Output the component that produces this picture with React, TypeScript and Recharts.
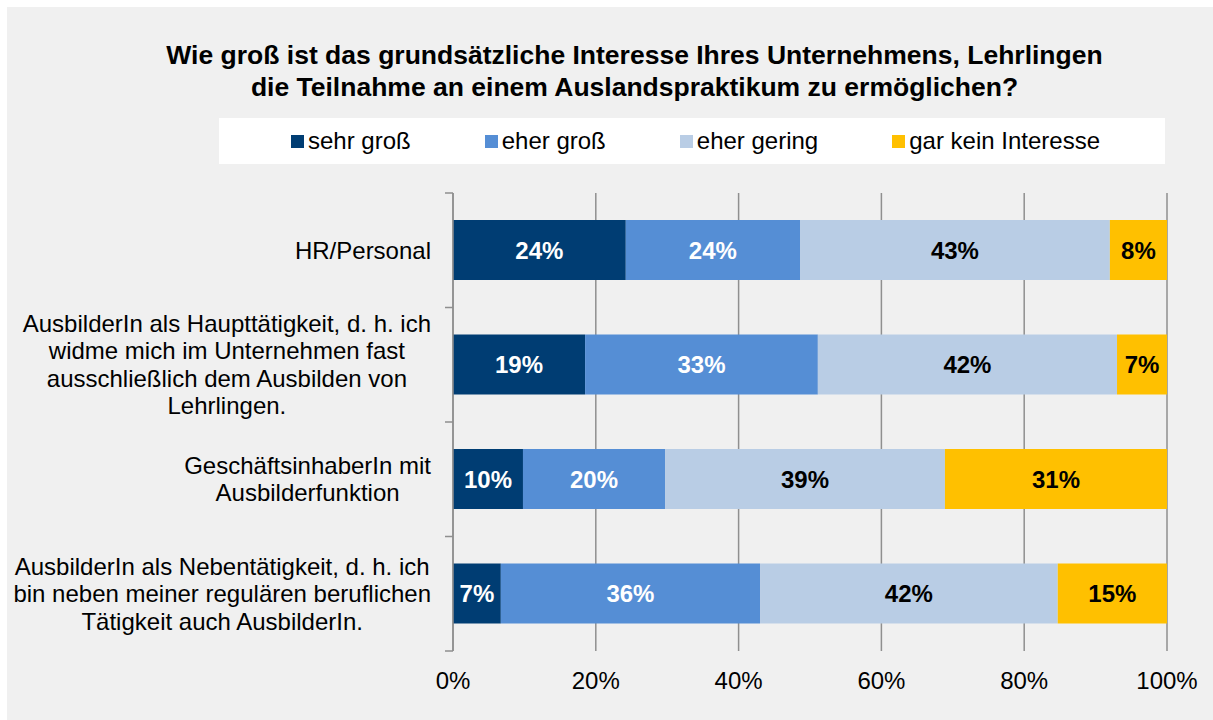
import { Bar, BarChart, CartesianGrid, LabelList, Legend, XAxis, YAxis } from "recharts";

const categories = [
  "HR/Personal",
  "AusbilderIn als Haupttätigkeit, d. h. ich\nwidme mich im Unternehmen fast\nausschließlich dem Ausbilden von\nLehrlingen.",
  "GeschäftsinhaberIn mit\nAusbilderfunktion",
  "AusbilderIn als Nebentätigkeit, d. h. ich\nbin neben meiner regulären beruflichen\nTätigkeit auch AusbilderIn.",
];
const sehrGross = [24.2, 18.5, 9.8, 6.7];
const eherGross = [24.4, 32.6, 19.9, 36.3];
const eherGering = [43.4, 41.9, 39.2, 41.7];
const garKein = [8.0, 7.0, 31.1, 15.3];
const seriesNames = ["sehr groß", "eher groß", "eher gering", "gar kein Interesse"];
const xTicks = [0, 20, 40, 60, 80, 100];
const titleLines = [
  "Wie groß ist das grundsätzliche Interesse Ihres Unternehmens, Lehrlingen",
  "die Teilnahme an einem Auslandspraktikum zu ermöglichen?",
];

const FONT = '"Liberation Sans", Arial, sans-serif';
const FS = 24;
const AXIS = "#8f8f8f";
const colors = ["#003d73", "#558ed5", "#b9cde5", "#ffc000"];
const labelColors = ["#ffffff", "#ffffff", "#000000", "#000000"];
const keys = ["s0", "s1", "s2", "s3"];

const data = categories.map((name, i) => ({
  name,
  s0: sehrGross[i],
  s1: eherGross[i],
  s2: eherGering[i],
  s3: garKein[i],
}));

const measureCtx = typeof document !== "undefined" ? document.createElement("canvas").getContext("2d") : null;
function textWidth(s: string) {
  if (!measureCtx) return s.length * FS * 0.5;
  measureCtx.font = `${FS}px "Liberation Sans"`;
  return measureCtx.measureText(s).width;
}

function CategoryTick(props: any) {
  const { x, y, payload, index } = props;
  const half = payload?.offset || 57;
  const lines = String(payload.value).split("\n");
  const maxW = Math.max(...lines.map(textWidth));
  const cx = x - maxW / 2;
  const lh = 27.5;
  const y0 = y - ((lines.length - 1) * lh) / 2;
  const isLast = index === categories.length - 1;
  return (
    <g>
      <line x1={x + 14} x2={x + 22} y1={y - half} y2={y - half} stroke={AXIS} strokeWidth={1.5} />
      {isLast && <line x1={x + 14} x2={x + 22} y1={y + half} y2={y + half} stroke={AXIS} strokeWidth={1.5} />}
      <text textAnchor="middle" fontSize={FS} fill="#000" fontFamily={FONT}>
        {lines.map((l, i) => (
          <tspan key={i} x={cx} y={y0 + i * lh} dy="0.35em">
            {l}
          </tspan>
        ))}
      </text>
    </g>
  );
}

function LegendContent() {
  return (
    <div
      style={{
        background: "#ffffff",
        width: "100%",
        height: "100%",
        display: "flex",
        alignItems: "center",
        justifyContent: "center",
        gap: 74,
        paddingLeft: 7,
        boxSizing: "border-box",
      }}
    >
      {seriesNames.map((name, i) => (
        <div key={name} style={{ display: "flex", alignItems: "center", gap: 4 }}>
          <span style={{ width: 13, height: 13, background: colors[i], display: "inline-block" }} />
          <span style={{ fontSize: FS, color: "#000", fontFamily: FONT }}>{name}</span>
        </div>
      ))}
    </div>
  );
}

export default function App() {
  return (
    <div
      style={{
        position: "absolute",
        left: 7,
        top: 7,
        width: 1206,
        height: 713,
        background: "#f0f0f0",
        fontFamily: FONT,
      }}
    >
      <div
        style={{
          position: "absolute",
          left: 127.5,
          top: 33,
          width: 1000,
          textAlign: "center",
          fontWeight: "bold",
          fontSize: 26.5,
          lineHeight: "31.5px",
          color: "#000",
          whiteSpace: "nowrap",
        }}
      >
        {titleLines.map((t) => (
          <div key={t}>{t}</div>
        ))}
      </div>
      <BarChart
        width={1206}
        height={713}
        data={data}
        layout="vertical"
        margin={{ top: 186, right: 46, bottom: 29, left: 0 }}
        style={{ fontFamily: FONT }}
      >
        <CartesianGrid horizontal={false} stroke={AXIS} strokeWidth={1.5} />
        <XAxis
          type="number"
          domain={[0, 100]}
          ticks={xTicks}
          allowDataOverflow
          axisLine={false}
          tickLine={false}
          tickMargin={15}
          height={40}
          tick={{ fill: "#000", fontSize: FS }}
          tickFormatter={(v) => `${v}%`}
        />
        <YAxis
          type="category"
          dataKey="name"
          width={446}
          axisLine={{ stroke: AXIS, strokeWidth: 1.5 }}
          tickLine={false}
          tickSize={8}
          tickMargin={14}
          tick={<CategoryTick />}
          interval={0}
        />
        <Legend
          layout="horizontal"
          verticalAlign="middle"
          align="center"
          content={<LegendContent />}
          wrapperStyle={{ left: 212, top: 111, width: 946, height: 46 }}
        />
        {keys.map((k, i) => (
          <Bar key={k} dataKey={k} name={seriesNames[i]} stackId="a" fill={colors[i]} barSize={60} isAnimationActive={false}>
            <LabelList
              dataKey={k}
              position="center"
              fill={labelColors[i]}
              fontSize={FS}
              fontWeight="bold"
              formatter={(v: any) => `${Math.round(Number(v))}%`}
            />
          </Bar>
        ))}
      </BarChart>
    </div>
  );
}
